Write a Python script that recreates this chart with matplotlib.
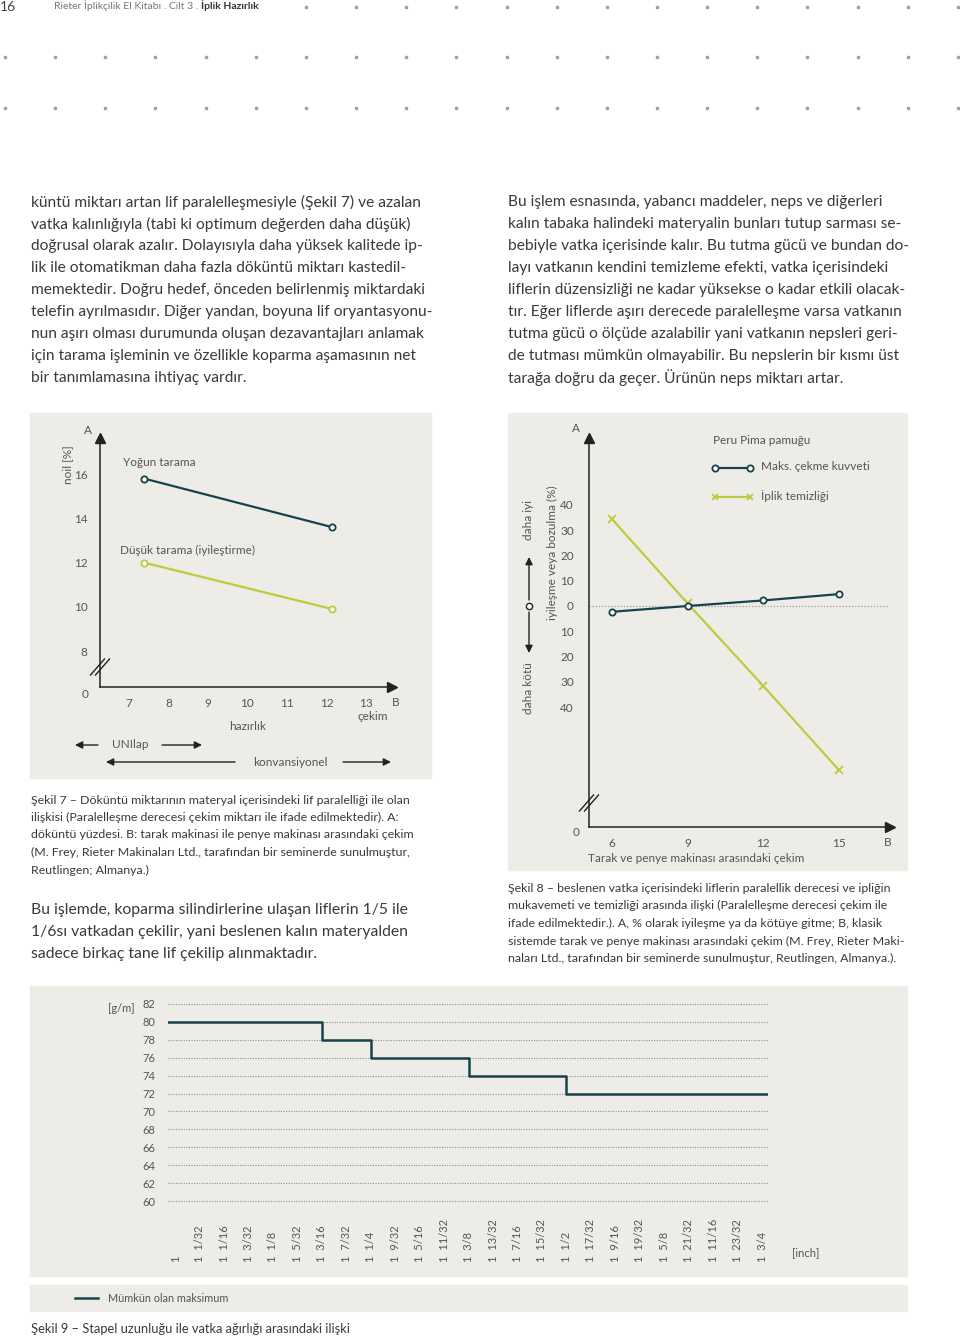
import matplotlib
matplotlib.use('Agg')
import matplotlib.pyplot as plt
from matplotlib.patches import Rectangle
from matplotlib.transforms import blended_transform_factory
import numpy as np

W, H = 960, 1337
BG = '#eeece7'
DARK = '#17434b'
GREEN = '#b9cd3e'
TXT = '#3a3a3a'
GREY = '#555555'

plt.rcParams['font.family'] = ['Lato', 'DejaVu Sans']

# Şekil 7: döküntü (noil) vs çekim
draft7 = [7, 8, 9, 10, 11, 12, 13]
noil_ticks = [8, 10, 12, 14, 16]
yogun_x = [7.38, 12.15]
yogun_y = [15.8, 13.6]
dusuk_x = [7.38, 12.15]
dusuk_y = [12.0, 9.9]

# Şekil 8: iyileşme / bozulma (%)
draft8 = [6, 9, 12, 15]
pct_ticks = [40, 30, 20, 10, 0, -10, -20, -30, -40]
cekme = [-2.3, 0.0, 2.2, 4.7]
temizlik = [34.4, 1.0, -31.7, -65.0]

# Şekil 9: stapel uzunluğu vs vatka ağırlığı
stapel = ['1', '1  1/32', '1  1/16', '1  3/32', '1  1/8', '1  5/32', '1  3/16',
          '1  7/32', '1  1/4', '1  9/32', '1  5/16', '1  11/32', '1  3/8',
          '1  13/32', '1  7/16', '1  15/32', '1  1/2', '1  17/32', '1  9/16',
          '1  19/32', '1  5/8', '1  21/32', '1  11/16', '1  23/32', '1  3/4']
gm_ticks = [60, 62, 64, 66, 68, 70, 72, 74, 76, 78, 80, 82]
step_at = [6, 8, 12, 16]           # 1/32 inch
step_val = [80, 78, 76, 74, 72]

left_text = [
    "küntü miktarı artan lif paralelleşmesiyle (Şekil 7) ve azalan",
    "vatka kalınlığıyla (tabi ki optimum değerden daha düşük)",
    "doğrusal olarak azalır. Dolayısıyla daha yüksek kalitede ip-",
    "lik ile otomatikman daha fazla döküntü miktarı kastedil-",
    "memektedir. Doğru hedef, önceden belirlenmiş miktardaki",
    "telefin ayrılmasıdır. Diğer yandan, boyuna lif oryantasyonu-",
    "nun aşırı olması durumunda oluşan dezavantajları anlamak",
    "için tarama işleminin ve özellikle koparma aşamasının net",
    "bir tanımlamasına ihtiyaç vardır.",
]
right_text = [
    "Bu işlem esnasında, yabancı maddeler, neps ve diğerleri",
    "kalın tabaka halindeki materyalin bunları tutup sarması se-",
    "bebiyle vatka içerisinde kalır. Bu tutma gücü ve bundan do-",
    "layı vatkanın kendini temizleme efekti, vatka içerisindeki",
    "liflerin düzensizliği ne kadar yüksekse o kadar etkili olacak-",
    "tır. Eğer liflerde aşırı derecede paralelleşme varsa vatkanın",
    "tutma gücü o ölçüde azalabilir yani vatkanın nepsleri geri-",
    "de tutması mümkün olmayabilir. Bu nepslerin bir kısmı üst",
    "tarağa doğru da geçer. Ürünün neps miktarı artar.",
]
cap7 = [
    "Şekil 7 – Döküntü miktarının materyal içerisindeki lif paralelliği ile olan",
    "ilişkisi (Paralelleşme derecesi çekim miktarı ile ifade edilmektedir). A:",
    "döküntü yüzdesi. B: tarak makinasi ile penye makinası arasındaki çekim",
    "(M. Frey, Rieter Makinaları Ltd., tarafından bir seminerde sunulmuştur,",
    "Reutlingen; Almanya.)",
]
para2 = [
    "Bu işlemde, koparma silindirlerine ulaşan liflerin 1/5 ile",
    "1/6sı vatkadan çekilir, yani beslenen kalın materyalden",
    "sadece birkaç tane lif çekilip alınmaktadır.",
]
cap8 = [
    "Şekil 8 – beslenen vatka içerisindeki liflerin paralellik derecesi ve ipliğin",
    "mukavemeti ve temizliği arasında ilişki (Paralelleşme derecesi çekim ile",
    "ifade edilmektedir.). A, % olarak iyileşme ya da kötüye gitme; B, klasik",
    "sistemde tarak ve penye makinası arasındaki çekim (M. Frey, Rieter Maki-",
    "naları Ltd., tarafından bir seminerde sunulmuştur, Reutlingen, Almanya.).",
]

fig = plt.figure(figsize=(W / 100, H / 100), dpi=100)

# page layer in pixel coordinates
pg = fig.add_axes([0, 0, 1, 1])
pg.set_xlim(0, W)
pg.set_ylim(H, 0)
pg.axis('off')


def txt(x, y, s, **kw):
    kw.setdefault('va', 'center')
    kw.setdefault('color', GREY)
    kw.setdefault('fontsize', 8.5)
    pg.text(x, y, s, **kw)


def arrow(x0, y0, x1, y1, style='-|>', color='#222222'):
    pg.annotate('', xy=(x1, y1), xytext=(x0, y0),
                arrowprops=dict(arrowstyle=style, color=color, lw=1.0,
                                shrinkA=0, shrinkB=0, mutation_scale=11))


def axis_break(x, y):
    for dx in (-2.5, 2.5):
        pg.plot([x + dx - 7, x + dx + 7], [y + 8, y - 8], color='#222222', lw=1.0)


# header
txt(0, 7, '16', fontsize=10, color='#444444', ha='left')
hd = pg.text(54, 6, 'Rieter İplikçilik El Kitabı . Cilt 3 . ', fontsize=7.5,
             color='#777777', va='center')
pg.annotate('İplik Hazırlık', xy=(1, 0.5), xycoords=hd, va='center',
            fontsize=7.5, fontweight='bold', color='#333333')
dot_x = 5 + 50.15 * np.arange(20)
pg.plot(dot_x[6:], [7] * 14, 's', ms=1.8, color='#a0a0a0')
pg.plot(dot_x, [57] * 20, 's', ms=1.8, color='#a0a0a0')
pg.plot(dot_x, [108] * 20, 's', ms=1.8, color='#a0a0a0')

# body text
for i, s in enumerate(left_text):
    txt(31, 202 + 22 * i, s, fontsize=11.2, color=TXT)
for i, s in enumerate(right_text):
    txt(508, 202 + 22 * i, s, fontsize=11.2, color=TXT)
for i, s in enumerate(cap7):
    txt(31, 800 + 17.5 * i, s, fontsize=8.9, color=TXT)
for i, s in enumerate(para2):
    txt(31, 910 + 22 * i, s, fontsize=11.3, color=TXT)
for i, s in enumerate(cap8):
    txt(508, 888 + 17.7 * i, s, fontsize=8.9, color=TXT)
txt(31, 1329, 'Şekil 9 – Stapel uzunluğu ile vatka ağırlığı arasındaki ilişki',
    fontsize=9.25, color=TXT)

# grey panels
for (x0, y0, x1, y1) in [(30, 413, 431, 778), (508, 413, 907, 870),
                         (30, 986, 907, 1276), (30, 1285, 907, 1311)]:
    pg.add_patch(Rectangle((x0, y0), x1 - x0, y1 - y0, color=BG, zorder=0))


def add_ax(l, t, r, b):
    a = fig.add_axes([l / W, 1 - b / H, (r - l) / W, (b - t) / H])
    a.set_facecolor('none')
    return a


def arrow_axes(a):
    for s in ('top', 'right'):
        a.spines[s].set_visible(False)
    for s in ('left', 'bottom'):
        a.spines[s].set_color('#222222')
        a.spines[s].set_linewidth(1.1)
    a.plot(1, 0, '>', ms=7, color='#222222', transform=a.transAxes, clip_on=False)
    a.plot(0, 1, '^', ms=7, color='#222222', transform=a.transAxes, clip_on=False)
    a.tick_params(length=0, labelsize=8.5, colors=GREY)


# ---- Şekil 7
ax1 = add_ax(100, 438, 392, 687)
ax1.set_xlim(6.27, 13.66)
ax1.set_ylim(6.38, 17.63)
arrow_axes(ax1)
ax1.set_xticks(draft7)
ax1.set_yticks(noil_ticks)
ax1.tick_params(axis='x', pad=8)
ax1.tick_params(axis='y', pad=9)
ax1.plot(yogun_x, yogun_y, '-o', color=DARK, lw=1.6, ms=4.5, mfc='white', mew=1.3)
ax1.plot(dusuk_x, dusuk_y, '-o', color=GREEN, lw=1.6, ms=4.5, mfc='white', mew=1.3)
axis_break(100, 667)
txt(88, 431, 'A', ha='center')
txt(396, 702, 'B', ha='center')
txt(85, 695, '0', ha='center')
txt(68, 465, 'noil [%]', rotation=90, ha='center')
txt(123, 463, 'Yoğun tarama', ha='left')
txt(120, 550, 'Düşük tarama (iyileştirme)', ha='left')
txt(373, 717, 'çekim', ha='center')
txt(248, 727, 'hazırlık', ha='center')
txt(130, 745, 'UNIlap', ha='center')
arrow(98, 745, 75, 745)
arrow(162, 745, 202, 745)
txt(290, 762, 'konvansiyonel', ha='center')
arrow(235, 762, 106, 762)
arrow(343, 762, 391, 762)

# ---- Şekil 8
ax2 = add_ax(589, 438, 890, 827)
ax2.set_xlim(5.09, 17.02)
ax2.set_ylim(-87.5, 66.5)
arrow_axes(ax2)
ax2.set_xticks(draft8)
ax2.set_yticks(pct_ticks)
ax2.set_yticklabels([str(abs(v)) for v in pct_ticks])
ax2.tick_params(axis='x', pad=8)
ax2.tick_params(axis='y', pad=11)
ax2.axhline(0, xmax=0.99, color='#9a9a9a', lw=0.9, ls=(0, (1, 1.5)))
ax2.plot(draft8, temizlik, '-x', color=GREEN, lw=1.6, ms=6, mew=1.3)
ax2.plot(draft8, cekme, '-o', color=DARK, lw=1.6, ms=4.5, mfc='white', mew=1.3)
axis_break(589, 803)
txt(576, 428, 'A', ha='center')
txt(888, 842, 'B', ha='center')
txt(576, 833, '0', ha='center')
txt(588, 858, 'Tarak ve penye makinası arasındaki çekim', ha='left')
txt(529, 520, 'daha iyi', rotation=90, ha='center')
txt(529, 688, 'daha kötü', rotation=90, ha='center')
txt(552, 553, 'iyileşme veya bozulma (%)', rotation=90, ha='center')
arrow(529, 600, 529, 557)
arrow(529, 612, 529, 653)
pg.plot([529], [606], 'o', ms=4.5, mfc='white', mec='#222222', mew=1.0)
# legend
txt(713, 441, 'Peru Pima pamuğu', ha='left')
pg.plot([715, 750], [468, 468], '-o', color=DARK, lw=1.6, ms=4.5, mfc='white', mew=1.3)
txt(761, 467, 'Maks. çekme kuvveti', ha='left')
pg.plot([715, 750], [497, 497], '-x', color=GREEN, lw=1.6, ms=5, mew=1.3)
txt(761, 496, 'İplik temizliği', ha='left')

# ---- Şekil 9
ax3 = add_ax(168, 1002.2, 768, 1202.8)
ax3.set_xlim(-0.29, 24.24)
ax3.set_ylim(59.8, 82.2)
for s in ax3.spines.values():
    s.set_visible(False)
for v in gm_ticks:
    ax3.axhline(v, color='#8c8c8c', lw=0.8, ls=(0, (1, 1.3)))
ax3.set_yticks(gm_ticks)
ax3.set_xticks([])
ax3.tick_params(length=0, labelsize=8, colors=GREY, pad=9)
lo, hi = ax3.get_xlim()
ax3.step([lo] + step_at + [hi], step_val + [step_val[-1]], where='post',
         color=DARK, lw=1.8)
tr = blended_transform_factory(ax3.transData, pg.transData)
for i, s in enumerate(stapel):
    ax3.text(i, 1262, s, rotation=90, ha='center', va='bottom', transform=tr,
             fontsize=8, color=GREY, clip_on=False)
txt(121, 1009, '[g/m]', ha='center', fontsize=8)
txt(806, 1253, '[inch]', ha='center', fontsize=8)

# legend strip
pg.plot([75, 98], [1298, 1298], color=DARK, lw=1.8)
txt(108, 1299, 'Mümkün olan maksimum', ha='left', fontsize=7.8)

fig.savefig('out.png', dpi=100)
